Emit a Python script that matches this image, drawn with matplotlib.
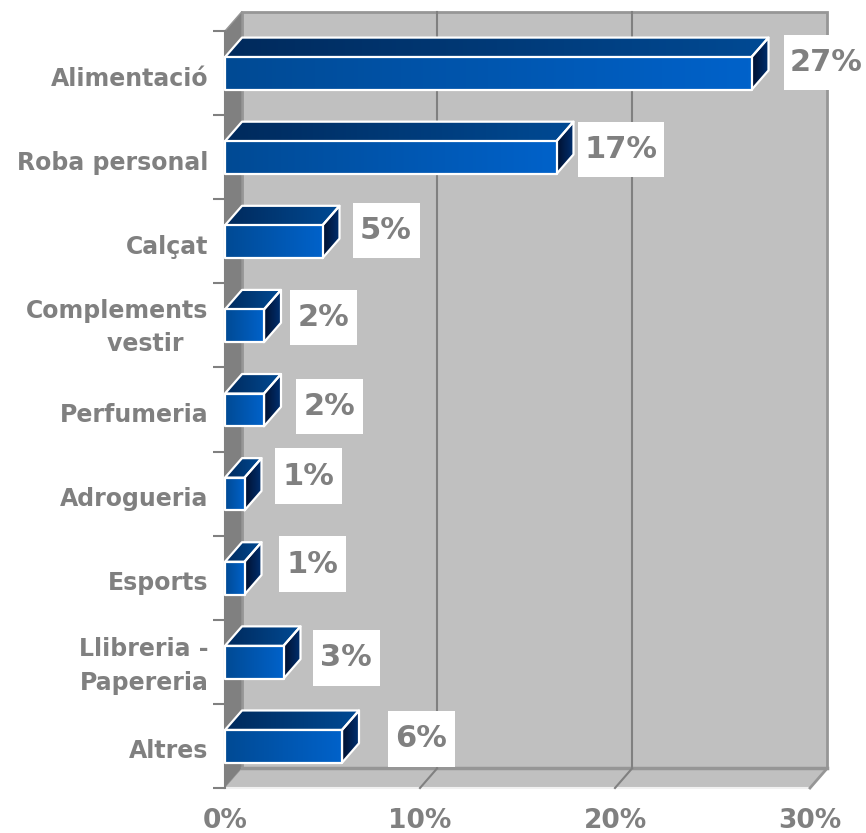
import matplotlib
matplotlib.use("Agg")
import matplotlib.pyplot as plt
import numpy as np
from matplotlib.colors import LinearSegmentedColormap
from matplotlib.patches import Polygon, Rectangle

categories = ["Alimentació", "Roba personal", "Calçat", "Complements\nvestir   ", "Perfumeria",
              "Adrogueria", "Esports", "Llibreria -\nPapereria", "Altres"]
values = [27, 17, 5, 2, 2, 1, 1, 3, 6]
value_labels = ["27%", "17%", "5%", "2%", "2%", "1%", "1%", "3%", "6%"]
x_ticks = [0, 10, 20, 30]
x_tick_labels = ["0%", "10%", "20%", "30%"]

# label box centre, pixels away from the bar's front end / row centre
label_dx = [75, 64, 63.5, 59.5, 65.5, 63.5, 67.5, 62.5, 79.5]
label_dy = [-10.5, -7.5, -11, -8, -3, -17.5, -13.5, -4, -7]
# category text, pixels below the row centre
category_dy = [3, 3, 3, -5, 3, 3, 3, -3, 3]

W, H = 866, 833
LEFT, RIGHT, TOP, BOTTOM = 225, 810, 31, 788
GRAY = "#808080"
WALL = "#c0c0c0"
EDGE = "#969696"

fig = plt.figure(figsize=(W / 100, H / 100), dpi=100)
ax = fig.add_axes([LEFT / W, 1 - BOTTOM / H, (RIGHT - LEFT) / W, (BOTTOM - TOP) / H])
ax.set_xlim(0, 30)
ax.set_ylim(9, 0)
px_x = (RIGHT - LEFT) / 30
px_y = (BOTTOM - TOP) / 9
dx = 17 / px_x
dy = 19.5 / px_y
n = len(values)


def poly(pts, **kw):
    p = Polygon(pts, closed=True, clip_on=False, **kw)
    ax.add_patch(p)
    return p


def grad_face(pts, colors, zorder):
    pts = np.asarray(pts)
    cmap = LinearSegmentedColormap.from_list("face", colors)
    im = ax.imshow(np.linspace(0, 1, 128).reshape(1, -1), cmap=cmap, aspect="auto",
                   extent=(pts[:, 0].min(), pts[:, 0].max(), pts[:, 1].max(), pts[:, 1].min()),
                   zorder=zorder, interpolation="bilinear")
    clip = poly(pts, facecolor="none", edgecolor="white", linewidth=1.6, joinstyle="round", zorder=zorder + 0.1)
    im.set_clip_path(clip)


# walls and floor
poly([(dx, -dy), (30 + dx, -dy), (30 + dx, n - dy), (dx, n - dy)], facecolor=WALL, edgecolor=EDGE, linewidth=2, zorder=1)
poly([(0, 0), (dx, -dy), (dx, n - dy), (0, n)], facecolor=GRAY, edgecolor=EDGE, linewidth=1, zorder=1.1)
poly([(0, n), (dx, n - dy), (30 + dx, n - dy), (30, n)], facecolor=WALL, edgecolor="none", zorder=1.1)
ax.plot([dx, 30 + dx], [n - dy, n - dy], color=EDGE, lw=2.5, zorder=1.2, clip_on=False)
ax.plot([0, 30], [n, n], color="#f0f0f0", lw=1.5, zorder=1.2, clip_on=False)
ax.plot([30, 30 + dx], [n, n - dy], color=EDGE, lw=2, zorder=1.2, clip_on=False)
for t in x_ticks[1:-1]:
    ax.plot([t + dx, t + dx], [-dy, n - dy], color=GRAY, lw=1.5, zorder=1.3, clip_on=False)
    ax.plot([t, t + dx], [n, n - dy], color=GRAY, lw=1.5, zorder=1.3, clip_on=False)

# bars
bar_top, bar_h = 0.31, 0.39
for i, v in enumerate(values):
    y0, y1 = i + bar_top, i + bar_top + bar_h
    grad_face([(0, y0), (dx, y0 - dy), (v + dx, y0 - dy), (v, y0)], ["#002a5c", "#004a94"], 3)
    grad_face([(v, y0), (v + dx, y0 - dy), (v + dx, y1 - dy), (v, y1)], ["#001030", "#003070"], 3)
    grad_face([(0, y0), (v, y0), (v, y1), (0, y1)], ["#004a94", "#0062ca"], 3.5)

# white value boxes
for i, (v, lab) in enumerate(zip(values, value_labels)):
    cx = v + label_dx[i] / px_x
    cy = i + 0.5 + label_dy[i] / px_y
    bw = (86 if len(lab) == 3 else 67) / px_x
    bh = 55.5 / px_y
    ax.add_patch(Rectangle((cx - bw / 2, cy - bh / 2), bw, bh, facecolor="white", edgecolor="none", zorder=5, clip_on=False))
    ax.text(cx, cy, lab, ha="center", va="center", color=GRAY, fontsize=22, fontweight="bold", zorder=6, clip_on=False)

# axes furniture
for name, sp in ax.spines.items():
    sp.set_visible(name == "left")
ax.spines["left"].set_color(GRAY)
ax.spines["left"].set_linewidth(1.5)
ax.spines["left"].set_zorder(2)
ax.set_yticks(np.arange(n + 1))
ax.set_yticklabels([])
ax.tick_params(axis="y", which="major", length=8.6, width=1.5, color=GRAY)
ax.set_yticks(np.arange(n) + 0.5 + np.array(category_dy) / px_y, minor=True)
ax.set_yticklabels(categories, minor=True, color=GRAY, fontsize=17, fontweight="bold", ha="right", linespacing=1.5)
ax.tick_params(axis="y", which="minor", length=0, pad=12)
ax.set_xticks(x_ticks)
ax.set_xticklabels(x_tick_labels, color=GRAY, fontsize=19, fontweight="bold")
ax.tick_params(axis="x", length=0, pad=14.5)
ax.set_xlim(0, 30)
ax.set_ylim(9, 0)

plt.savefig("out.png", dpi=100)
plt.close()
